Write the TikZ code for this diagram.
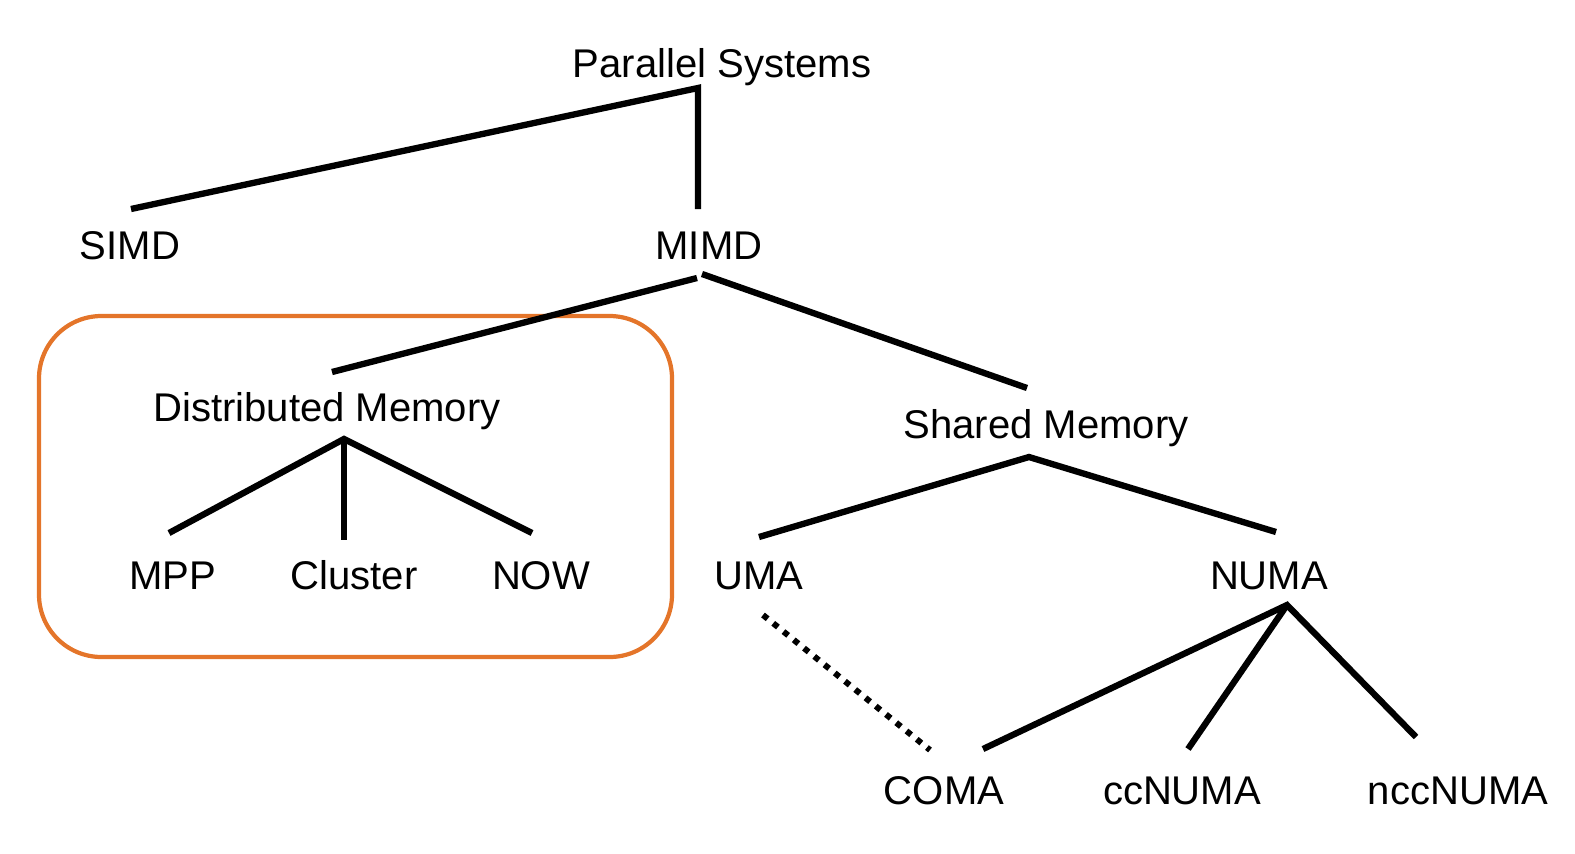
\documentclass[tikz,border=0pt]{standalone}
\usepackage{fontspec}
\setmainfont{Liberation Sans}
\definecolor{boxorange}{RGB}{228,117,42}
\begin{document}
\begin{tikzpicture}[x=0.02cm,y=-0.02cm,
  lbl/.style={anchor=base,inner sep=0pt,font=\fontsize{22.8pt}{27pt}\selectfont},
  edge/.style={line width=3.6pt,line cap=butt},
  dotedge/.style={line width=3.4pt,line cap=butt,dash pattern=on 3.4pt off 4.1pt},
  groupbox/.style={draw=boxorange,line width=2.4pt,rounded corners=1.25cm}]
\useasboundingbox (0,0) rectangle (1575,853);
% labels
\node[lbl] (ps) at (722,77) {Parallel Systems};
\node[lbl] (simd) at (130,259) {SIMD};
\node[lbl] (mimd) at (709,259) {MIMD};
\node[lbl] (dm) at (327,421) {Distributed Memory};
\node[lbl] (sm) at (1046,438) {Shared Memory};
\node[lbl] (mpp) at (173,589) {MPP};
\node[lbl] (cluster) at (354,589) {Cluster};
\node[lbl] (now) at (541,589) {NOW};
\node[lbl] (uma) at (759,589) {UMA};
\node[lbl] (numa) at (1269,589) {NUMA};
\node[lbl] (coma) at (944,804) {COMA};
\node[lbl] (ccnuma) at (1182,804) {ccNUMA};
\node[lbl] (nccnuma) at (1458,804) {nccNUMA};
% connector end points
\coordinate (psJ) at (698,88);
\coordinate (simdT) at (131,209);
\coordinate (mimdT) at (698,209);
\coordinate (mimdJL) at (697,278);
\coordinate (mimdJR) at (702,274);
\coordinate (dmT) at (332,372);
\coordinate (smT) at (1027,388);
\coordinate (dmJ) at (344,439);
\coordinate (mppT) at (169,533);
\coordinate (clusterT) at (344,540);
\coordinate (nowT) at (532,533);
\coordinate (smJ) at (1029,457);
\coordinate (umaT) at (759,537);
\coordinate (numaT) at (1276,532);
\coordinate (umaB) at (763,615);
\coordinate (comaT) at (930,750);
\coordinate (numaJ) at (1287,605);
\coordinate (comaT2) at (983,749);
\coordinate (ccnumaT) at (1188,749);
\coordinate (nccnumaT) at (1416,737);
% box
\draw[groupbox] (39,316) rectangle (672,657);
% connectors
\draw[edge] (simdT) -- (psJ) -- (mimdT);
\draw[edge] (mimdJL) -- (dmT);
\draw[edge] (mimdJR) -- (smT);
\draw[edge] (mppT) -- (dmJ) -- (nowT);
\draw[edge] (dmJ) -- (clusterT);
\draw[edge] (umaT) -- (smJ) -- (numaT);
\draw[dotedge] (umaB) -- (comaT);
\draw[edge] (comaT2) -- (numaJ) -- (nccnumaT);
\draw[edge] (numaJ) -- (ccnumaT);
\end{tikzpicture}
\end{document}
